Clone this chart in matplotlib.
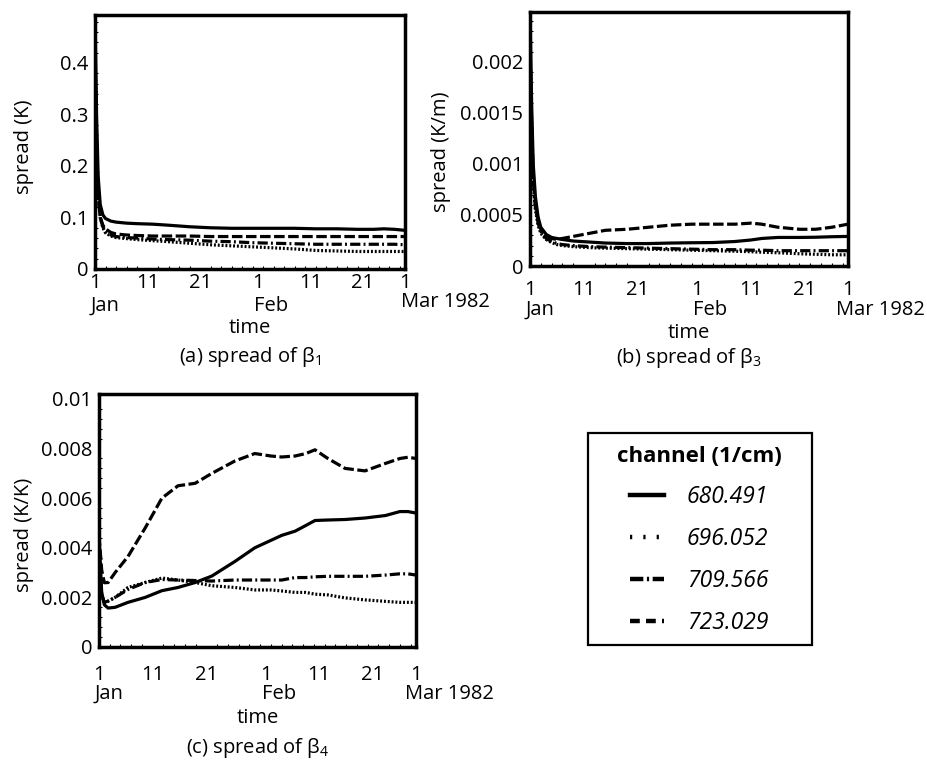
import matplotlib
matplotlib.use("Agg")
import matplotlib.pyplot as plt
from matplotlib.lines import Line2D
from matplotlib.patches import Rectangle
from matplotlib.transforms import offset_copy
from matplotlib.ticker import MultipleLocator

plt.rcParams['font.family'] = ['Open Sans', 'DejaVu Sans']

# days since 1 Jan 1982
channels = ["680.491", "696.052", "709.566", "723.029"]
tick_days = [0, 10, 20, 31, 41, 51, 59]
tick_labels = ["1", "11", "21", "1", "11", "21", "1"]
month_days = [0, 31, 59]
month_labels = ["Jan", "Feb", "Mar 1982"]

# (a) spread of beta_1
days_a = [0, 0.3, 0.6, 1, 1.5, 2, 3, 4, 6, 8, 11, 14, 18, 22, 26, 30, 34, 38, 42, 46, 50, 53, 55, 57, 59]
a_680 = [0.49, 0.30, 0.18, 0.125, 0.105, 0.098, 0.093, 0.091, 0.089, 0.088, 0.087, 0.085, 0.082, 0.080,
         0.079, 0.079, 0.079, 0.079, 0.078, 0.078, 0.077, 0.077, 0.078, 0.077, 0.075]
a_696 = [0.45, 0.25, 0.15, 0.10, 0.08, 0.07, 0.064, 0.061, 0.059, 0.057, 0.055, 0.053, 0.050, 0.047,
         0.045, 0.043, 0.041, 0.039, 0.036, 0.035, 0.034, 0.034, 0.034, 0.034, 0.034]
a_709 = [0.42, 0.24, 0.15, 0.10, 0.082, 0.073, 0.066, 0.063, 0.061, 0.060, 0.058, 0.057, 0.056, 0.054,
         0.053, 0.051, 0.050, 0.049, 0.048, 0.048, 0.048, 0.048, 0.048, 0.048, 0.047]
a_723 = [0.40, 0.22, 0.14, 0.10, 0.085, 0.078, 0.071, 0.068, 0.066, 0.065, 0.064, 0.064, 0.064, 0.063,
         0.063, 0.063, 0.063, 0.063, 0.063, 0.063, 0.063, 0.063, 0.063, 0.063, 0.063]

# (b) spread of beta_3
days_b = [0, 0.3, 0.6, 1, 1.5, 2, 3, 4, 5, 6, 8, 11, 14, 18, 22, 26, 30, 34, 38, 41, 43, 46, 50, 53, 56, 59]
b_680 = [0.00249, 0.0016, 0.0010, 0.00068, 0.00048, 0.00038, 0.00031, 0.00028, 0.00027, 0.00026, 0.000245,
         0.000235, 0.000225, 0.00022, 0.00022, 0.000225, 0.000228, 0.00023, 0.00024, 0.000255, 0.00027,
         0.00028, 0.00028, 0.000282, 0.000287, 0.00029]
b_696 = [0.002, 0.0012, 0.0008, 0.00055, 0.0004, 0.00032, 0.00026, 0.00023, 0.00021, 0.0002, 0.00019,
         0.00018, 0.000175, 0.00017, 0.000165, 0.00016, 0.000155, 0.00015, 0.000145, 0.00014, 0.000135,
         0.00013, 0.00012, 0.000115, 0.00011, 0.00011]
b_709 = [0.0021, 0.0013, 0.00085, 0.00058, 0.00042, 0.00034, 0.00027, 0.00024, 0.00022, 0.00021, 0.0002,
         0.00019, 0.000185, 0.00018, 0.000175, 0.00017, 0.000165, 0.00016, 0.00016, 0.000155, 0.000155,
         0.00015, 0.00015, 0.00015, 0.00015, 0.00015]
b_723 = [0.0022, 0.0014, 0.0009, 0.00062, 0.00045, 0.00036, 0.0003, 0.00027, 0.00026, 0.00027, 0.00029,
         0.00032, 0.00035, 0.00036, 0.00038, 0.0004, 0.00041, 0.00041, 0.00041, 0.00042, 0.00041,
         0.00038, 0.00036, 0.00036, 0.00038, 0.00041]

# (c) spread of beta_4
days_c = [0, 0.5, 1, 1.7, 3, 5.4, 8.6, 11.7, 14.7, 17.9, 21, 25.3, 29, 32, 34, 36.5, 38.5, 40.2, 42.6,
          45.8, 49.5, 53.3, 56, 57.5, 59]
c_680 = [0.0045, 0.0022, 0.0017, 0.00157, 0.0016, 0.0018, 0.002, 0.00227, 0.0024, 0.0026, 0.00286,
         0.00345, 0.0040, 0.0043, 0.0045, 0.00467, 0.0049, 0.0051, 0.00512, 0.00514, 0.0052, 0.0053,
         0.00546, 0.00546, 0.0054]
c_696 = [0.0035, 0.0021, 0.0018, 0.00185, 0.0020, 0.0024, 0.0026, 0.00278, 0.0027, 0.0026, 0.00247,
         0.0024, 0.0023, 0.0023, 0.00226, 0.0022, 0.0022, 0.00213, 0.0021, 0.00198, 0.0019, 0.00184,
         0.0018, 0.0018, 0.0018]
c_709 = [0.0035, 0.0021, 0.0018, 0.00185, 0.002, 0.00232, 0.0026, 0.00272, 0.0027, 0.00268, 0.00266,
         0.0027, 0.0027, 0.0027, 0.0027, 0.0028, 0.0028, 0.00283, 0.00285, 0.00285, 0.00285, 0.0029,
         0.00295, 0.00295, 0.0029]
c_723 = [0.0045, 0.0031, 0.00259, 0.0026, 0.003, 0.00365, 0.0048, 0.0060, 0.0065, 0.0066, 0.0070,
         0.0075, 0.0078, 0.0077, 0.00766, 0.0077, 0.0078, 0.00795, 0.0076, 0.0072, 0.0071, 0.0074,
         0.0076, 0.00765, 0.0076]

styles = ['-', (0, (0.6, 0.6)), (0, (3.2, 1.0, 0.6, 1.0)), (0, (3.3, 1.1))]
LW = 2.3
FS = 14.5

W, H = 927, 762
fig = plt.figure(figsize=(W / 100, H / 100), dpi=100)


def px_axes(left, top, right, bottom):
    return fig.add_axes([left / W, 1 - bottom / H, (right - left) / W, (bottom - top) / H])


def setup(ax, days, series, ylim, yticks, yticklabels, ylabel, ylab_xy, title, pads, mar_off):
    for ys, ls in zip(series, styles):
        ax.plot(days, ys, color='black', lw=LW, linestyle=ls, solid_capstyle='butt',
                dash_capstyle='butt')
    ax.set_xlim(0, 59)
    ax.set_ylim(*ylim)
    ax.set_xticks(tick_days)
    ax.set_xticklabels(tick_labels)
    ax.set_yticks(yticks)
    ax.set_yticklabels(yticklabels)
    ax.xaxis.set_minor_locator(MultipleLocator(2))
    ax.yaxis.set_minor_locator(MultipleLocator(yticks[1] / 5))
    ax.tick_params(which='major', length=0, labelsize=FS)
    ax.tick_params(axis='x', which='major', pad=pads[0])
    ax.tick_params(axis='y', which='major', pad=5)
    ax.tick_params(which='minor', direction='in', length=2.5, width=0.8)
    for sp in ax.spines.values():
        sp.set_linewidth(2.5)
    ax.set_ylabel(ylabel, fontsize=FS)
    ax.yaxis.set_label_coords(*ylab_xy)
    tr = ax.get_xaxis_transform()
    for d, lab in zip(month_days, month_labels):
        if lab.startswith("Mar"):
            dx, dy = mar_off[0], pads[1] + mar_off[1]
        else:
            dx, dy = -4, pads[1]
        ax.text(d, 0, lab, fontsize=FS, ha='left', va='center',
                transform=offset_copy(tr, fig, x=dx, y=-dy, units='dots'))
    ax.text(0.5, 0, "time", fontsize=FS, ha='center', va='center',
            transform=offset_copy(ax.transAxes, fig, x=0, y=-pads[2], units='dots'))
    ax.text(0.5, 0, title, fontsize=FS, ha='center', va='center',
            transform=offset_copy(ax.transAxes, fig, x=0, y=-pads[3], units='dots'))


ax_a = px_axes(95, 15, 405, 269)
setup(ax_a, days_a, [a_680, a_696, a_709, a_723], (0, 0.493),
      [0, 0.1, 0.2, 0.3, 0.4], ["0", "0.1", "0.2", "0.3", "0.4"],
      "spread (K)", (-0.197, 0.48), r"(a) spread of $\mathregular{\beta_1}$", (3, 37, 59, 88), (-4, -4))

ax_b = px_axes(530, 12, 848, 266)
setup(ax_b, days_b, [b_680, b_696, b_709, b_723], (0, 0.00249),
      [0, 0.0005, 0.001, 0.0015, 0.002], ["0", "0.0005", "0.001", "0.0015", "0.002"],
      "spread (K/m)", (-0.248, 0.45), r"(b) spread of $\mathregular{\beta_3}$", (10, 44, 67, 92), (-12, 0))

ax_c = px_axes(99, 394, 416, 647)
setup(ax_c, days_c, [c_680, c_696, c_709, c_723], (0, 0.0102),
      [0, 0.002, 0.004, 0.006, 0.008, 0.01], ["0", "0.002", "0.004", "0.006", "0.008", "0.01"],
      "spread (K/K)", (-0.205, 0.443), r"(c) spread of $\mathregular{\beta_4}$", (13, 47, 71, 101), (-11, 0))

# legend
legend_styles = ['-', (0, (0.5, 2.5)), (0, (3.0, 0.8, 0.5, 0.8)), (0, (2.2, 1.4))]
handles = [Line2D([], [], color='black', lw=3.2, linestyle=ls) for ls in legend_styles]
leg = fig.legend(handles, channels, loc='upper center', bbox_to_anchor=(699 / W, 1 - 435 / H),
                 frameon=False, prop={'size': 16.5, 'style': 'italic'},
                 title="channel (1/cm)", title_fontproperties={'size': 16, 'weight': 'bold'},
                 handlelength=1.5, handletextpad=1.0, labelspacing=0.78, borderpad=0.0)
fig.add_artist(Rectangle((588 / W, 1 - 645 / H), 224 / W, 212 / H, transform=fig.transFigure,
                         fill=False, edgecolor='black', lw=1.6))

fig.savefig("out.png", dpi=100)
